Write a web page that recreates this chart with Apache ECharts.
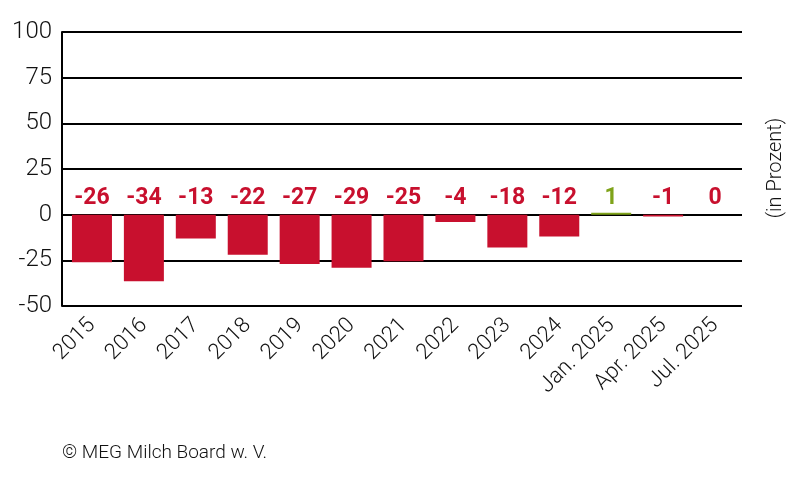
<!DOCTYPE html>
<html><head><meta charset="utf-8">
<script src="https://cdn.jsdelivr.net/npm/echarts@6/dist/echarts.min.js"></script>
<style>html,body{margin:0;padding:0;background:#fff}#c{width:800px;height:482px}</style>
</head><body><div id="c"></div>
<script>
const categories = ['2015','2016','2017','2018','2019','2020','2021','2022','2023','2024','Jan. 2025','Apr. 2025','Jul. 2025'];
const barValues = [-26,-36.5,-13,-22,-27,-29,-25.5,-4,-18,-12,1,-1,0];
const valueLabels = ['-26','-34','-13','-22','-27','-29','-25','-4','-18','-12','1','-1','0'];
const yTicks = [-50,-25,0,25,50,75,100];

const RED = '#c8102e', GREEN = '#7fa31a';
const FONT = 'Roboto,"DejaVu Sans Condensed",sans-serif';
const colorOf = v => v > 0 ? GREEN : RED;
const yMin = yTicks[0], yMax = yTicks[yTicks.length-1];

const chart = echarts.init(document.getElementById('c'), null, {renderer:'canvas'});
chart.setOption({
  animation:false,
  grid:[
    {left:62,right:58,top:32,bottom:176},
    {left:66,right:59,top:32,bottom:176}
  ],
  xAxis:[
    {gridIndex:0,type:'category',data:categories,show:false},
    {gridIndex:1,type:'category',data:categories,
     axisLine:{show:false},axisTick:{show:false},
     axisLabel:{rotate:45,interval:0,color:'#111',fontSize:22,fontWeight:300,fontFamily:FONT,margin:16}}
  ],
  yAxis:[
    {gridIndex:0,type:'value',min:yMin,max:yMax,interval:25,
     axisLine:{show:true,lineStyle:{color:'#000',width:2}},axisTick:{show:false},
     splitLine:{lineStyle:{color:'#000',width:2}},
     axisLabel:{color:'#111',fontSize:24,fontWeight:300,fontFamily:FONT,margin:10}},
    {gridIndex:1,type:'value',min:yMin,max:yMax,interval:25,show:false,splitLine:{show:false}}
  ],
  series:[
    {type:'bar',xAxisIndex:1,yAxisIndex:1,barWidth:40,
     data:barValues.map(v=>({value:v,itemStyle:{color:colorOf(v)}})),z:3},
    {type:'scatter',xAxisIndex:1,yAxisIndex:1,symbolSize:0,silent:true,itemStyle:{opacity:1},
     data:valueLabels.map((l,i)=>({value:[i,9],label:{formatter:l,color:colorOf(parseFloat(l))}})),
     label:{show:true,position:'inside',fontWeight:'bold',fontSize:23,fontFamily:FONT}}
  ],
  graphic:[
    {type:'text',left:62,top:444,style:{text:'© MEG Milch Board w. V.',font:'300 19px '+FONT,fill:'#111'}},
    {type:'text',x:776,y:168,rotation:Math.PI/2,style:{text:'(in Prozent)',font:'300 20px '+FONT,fill:'#111',align:'center',verticalAlign:'middle'}}
  ]
});
</script></body></html>
